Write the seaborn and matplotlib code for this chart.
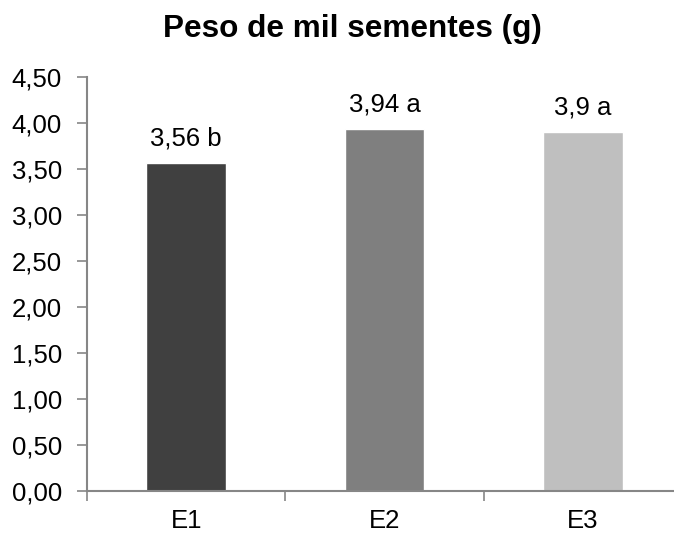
import matplotlib
matplotlib.use("Agg")
import matplotlib.pyplot as plt
import seaborn as sns
import pandas as pd
from matplotlib.ticker import FixedLocator, FuncFormatter

categories = ["E1", "E2", "E3"]
values = [3.56, 3.94, 3.90]
letters = ["b", "a", "a"]
bar_colors = ["#404040", "#7f7f7f", "#bfbfbf"]
y_ticks = [0.0, 0.5, 1.0, 1.5, 2.0, 2.5, 3.0, 3.5, 4.0, 4.5]

sns.set_theme(style="white")
plt.rcParams["font.family"] = ["Liberation Sans", "DejaVu Sans"]

df = pd.DataFrame({"trat": categories, "peso": values})

fig = plt.figure(figsize=(6.74, 5.34), dpi=100)
ax = fig.add_axes([87 / 674, 43 / 534, 595 / 674, 414 / 534])

sns.barplot(data=df, x="trat", y="peso", hue="trat", palette=bar_colors,
            width=0.403, legend=False, ax=ax, saturation=1)

axis_grey = "#868686"
fs = 18.5
ax.set_xlim(-0.5, 2.5)
ax.set_ylim(0, 4.5)
ax.set_yticks(y_ticks)
ax.yaxis.set_major_formatter(FuncFormatter(lambda v, _: f"{v:.2f}".replace(".", ",")))

# category boundaries carry the tick marks, labels sit at the centres
ax.xaxis.set_major_locator(FixedLocator([-0.5, 0.5, 1.5, 2.5]))
ax.xaxis.set_major_formatter(FuncFormatter(lambda v, _: ""))
ax.xaxis.set_minor_locator(FixedLocator([0, 1, 2]))
ax.set_xticklabels(categories, minor=True)
ax.tick_params(axis="x", which="major", length=7, width=1.2, color=axis_grey, direction="out", bottom=True)
ax.tick_params(axis="x", which="minor", length=0, pad=13, labelsize=fs, colors="black", bottom=True)
ax.tick_params(axis="y", length=7, width=1.2, color=axis_grey, direction="out", left=True,
               labelsize=fs, labelcolor="black", pad=11)

for side in ["top", "right"]:
    ax.spines[side].set_visible(False)
for side in ["left", "bottom"]:
    ax.spines[side].set_color(axis_grey)
    ax.spines[side].set_linewidth(1.5)

ax.set_xlabel("")
ax.set_ylabel("")

for i, (v, l) in enumerate(zip(values, letters)):
    txt = f"{v:g}".replace(".", ",") + f" {l}"
    ax.annotate(txt, xy=(i, v), xytext=(0, 9), textcoords="offset points",
                ha="center", va="bottom", fontsize=fs, color="black")

fig.text(352 / 674, 1 - 37 / 534, "Peso de mil sementes (g)", ha="center", va="baseline",
         fontsize=22.7, fontweight="bold", color="black")

fig.savefig("out.png", dpi=100)
